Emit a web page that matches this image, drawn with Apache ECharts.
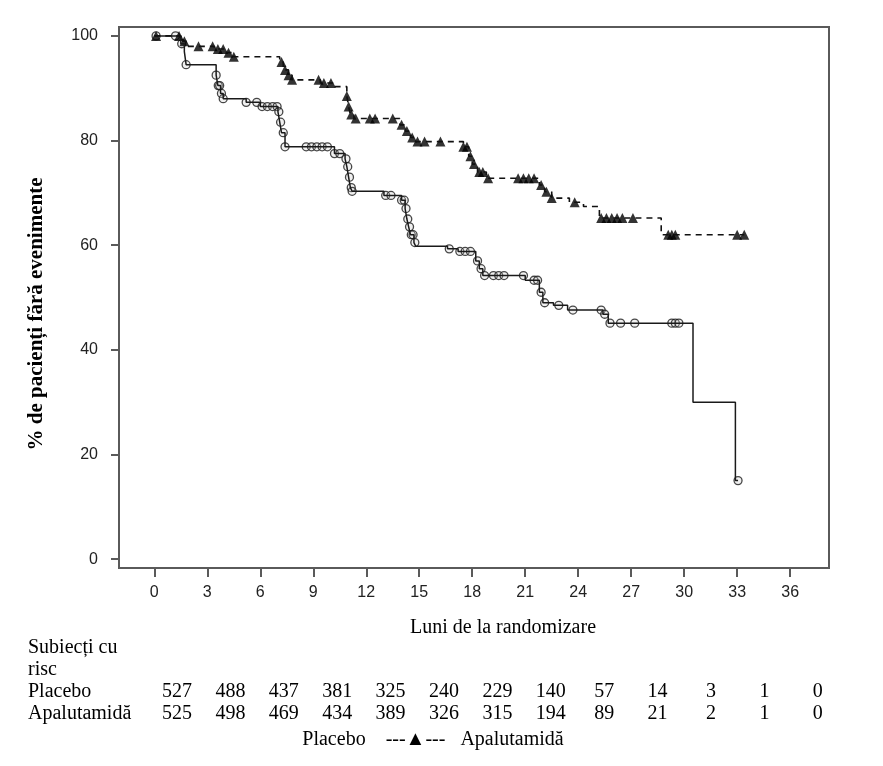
<!DOCTYPE html>
<html>
<head>
<meta charset="utf-8">
<script src="https://cdn.jsdelivr.net/npm/echarts@6/dist/echarts.min.js"></script>
<style>
  html, body { margin: 0; padding: 0; background: #fff; }
  #km-chart { width: 883px; height: 766px; }
</style>
</head>
<body>
<div id="km-chart"></div>
<script>
// luni pentru etichete / tabel de risc
var monthTicks = [0, 3, 6, 9, 12, 15, 18, 21, 24, 27, 30, 33, 36];
var pctTicks = [0, 20, 40, 60, 80, 100];

// Placebo: momentele evenimentelor si supravietuirea (%)
var placeboTime = [0, 1.5, 1.7, 1.8, 3.5, 3.6, 3.75, 3.9, 5.2, 6.0, 7.0, 7.1, 7.2, 7.4,
    10.2, 10.8, 10.9, 11.0, 11.1, 11.2, 13.0, 14.0, 14.2, 14.3, 14.4, 14.5, 14.7, 14.8,
    16.6, 17.2, 18.2, 18.4, 18.6, 21.0, 21.8, 22.0, 22.6, 23.4, 25.4, 25.7, 30.5, 32.9];
var placeboSurv = [100, 98.5, 97, 94.5, 92.5, 90.5, 89, 88, 87.3, 86.5, 85.5, 83.5, 81.5, 78.8,
    77.5, 76.5, 75, 73, 71, 70.3, 69.5, 68.6, 67, 65, 63.5, 62, 60.5, 59.8,
    59.3, 58.8, 57, 55.5, 54.2, 53.3, 51, 49, 48.5, 47.6, 46.8, 45.1, 30, 15];
var placeboCensor = [0.1, 1.2, 1.55, 1.8, 3.5, 3.62, 3.7, 3.8, 3.9, 5.2, 5.8, 6.1, 6.4, 6.7,
    6.95, 7.05, 7.15, 7.3, 7.4, 8.6, 8.9, 9.2, 9.5, 9.8, 10.2, 10.5, 10.85, 10.95, 11.05,
    11.15, 11.2, 13.1, 13.4, 14.0, 14.15, 14.25, 14.35, 14.45, 14.55, 14.65, 14.75, 16.7,
    17.3, 17.6, 17.9, 18.3, 18.5, 18.7, 19.2, 19.5, 19.8, 20.9, 21.5, 21.7, 21.9, 22.1,
    22.9, 23.7, 25.3, 25.5, 25.8, 26.4, 27.2, 29.3, 29.5, 29.7, 33.05];

// Apalutamida
var apaTime = [0, 1.5, 1.8, 3.4, 4.0, 4.5, 7.1, 7.3, 7.6, 7.8, 9.4, 10.2, 10.9, 11.0, 11.1, 11.3,
    13.9, 14.2, 14.5, 14.8, 17.5, 17.8, 18.0, 18.3, 18.8, 21.8, 22.1, 22.5, 23.5, 24.3, 25.2, 28.7];
var apaSurv = [100, 99, 98, 97.5, 96.8, 96, 95, 93.5, 92.5, 91.6, 91, 90.3, 88.5, 86.5, 85, 84.2,
    83, 81.8, 80.6, 79.8, 78.8, 77, 75.5, 74, 72.8, 71.5, 70.2, 69, 68.2, 67.4, 65.2, 62];
var apaCensor = [0.1, 1.4, 1.7, 2.5, 3.3, 3.6, 3.9, 4.2, 4.5, 7.2, 7.4, 7.6, 7.8, 9.3, 9.6, 10.0,
    10.9, 11.0, 11.15, 11.4, 12.2, 12.5, 13.5, 14.0, 14.3, 14.6, 14.9, 15.3, 16.2, 17.5, 17.7,
    17.9, 18.1, 18.4, 18.6, 18.9, 20.6, 20.9, 21.2, 21.5, 21.9, 22.2, 22.5, 23.8, 25.3, 25.6,
    25.9, 26.2, 26.5, 27.1, 29.1, 29.3, 29.5, 33.0, 33.4];

// subiecti cu risc
var riskPlacebo = [527, 488, 437, 381, 325, 240, 229, 140, 57, 14, 3, 1, 0];
var riskApa = [525, 498, 469, 434, 389, 326, 315, 194, 89, 21, 2, 1, 0];

var SERIF = '"Liberation Serif", "Times New Roman", serif';
var SANS = '"Liberation Sans", Arial, sans-serif';

function survAt(T, S, t) {
    var v = S[0];
    for (var i = 0; i < T.length; i++) {
        if (T[i] <= t + 1e-9) v = S[i];
    }
    return v;
}

function stepLine(T, S, C) {
    var out = T.map(function (t, i) { return [t, S[i]]; });
    var last = C[C.length - 1];
    if (last > T[T.length - 1]) out.push([last, S[S.length - 1]]);
    return out;
}

function censorPts(T, S, C) {
    return C.map(function (t) { return [t, survAt(T, S, t)]; });
}

var graphics = [];
graphics.push({
    type: 'text', x: 37, y: 314, rotation: Math.PI / 2,
    style: { text: '% de pacienți fără evenimente', font: 'bold 21px ' + SERIF,
        fill: '#000', textAlign: 'center', textVerticalAlign: 'middle' }
});
graphics.push({
    type: 'text', x: 503, y: 628,
    style: { text: 'Luni de la randomizare', font: '20px ' + SERIF,
        fill: '#000', textAlign: 'center', textVerticalAlign: 'middle' }
});
var leftTexts = [['Subiecți cu', 648], ['risc', 670], ['Placebo', 692], ['Apalutamidă', 714]];
leftTexts.forEach(function (r) {
    graphics.push({
        type: 'text', x: 28, y: r[1],
        style: { text: r[0], font: '20px ' + SERIF, fill: '#000',
            textAlign: 'left', textVerticalAlign: 'middle' }
    });
});
monthTicks.forEach(function (m, i) {
    var cx = 177 + i * 53.4;
    graphics.push({
        type: 'text', x: cx, y: 692,
        style: { text: String(riskPlacebo[i]), font: '20px ' + SERIF, fill: '#000',
            textAlign: 'center', textVerticalAlign: 'middle' }
    });
    graphics.push({
        type: 'text', x: cx, y: 714,
        style: { text: String(riskApa[i]), font: '20px ' + SERIF, fill: '#000',
            textAlign: 'center', textVerticalAlign: 'middle' }
    });
});
graphics.push({
    type: 'text', x: 433, y: 740,
    style: { text: 'Placebo    ---▲---   Apalutamidă', font: '20px ' + SERIF, fill: '#000',
        textAlign: 'center', textVerticalAlign: 'middle' }
});

var myChart = echarts.init(document.getElementById('km-chart'));

var option = {
    animation: false,
    backgroundColor: '#fff',
    grid: {
        left: 119, top: 27, right: 54, bottom: 198,
        show: true, borderColor: '#5a5a5a', borderWidth: 2
    },
    xAxis: {
        type: 'value',
        min: -2,
        max: 38.2,
        axisLine: { show: true, onZero: false, lineStyle: { color: '#5a5a5a', width: 2 } },
        axisTick: { show: true, length: 9, customValues: monthTicks,
            lineStyle: { color: '#5a5a5a', width: 2 } },
        axisLabel: { customValues: monthTicks, margin: 17,
            fontFamily: SANS, fontSize: 16, color: '#222' },
        splitLine: { show: false }
    },
    yAxis: {
        type: 'value',
        min: -1.7,
        max: 101.7,
        axisLine: { show: true, onZero: false, lineStyle: { color: '#5a5a5a', width: 2 } },
        axisTick: { show: true, length: 8, customValues: pctTicks,
            lineStyle: { color: '#5a5a5a', width: 2 } },
        axisLabel: { customValues: pctTicks, margin: 21,
            fontFamily: SANS, fontSize: 16, color: '#222' },
        splitLine: { show: false }
    },
    graphic: graphics,
    series: [
        {
            name: 'Placebo',
            type: 'line',
            step: 'end',
            symbol: 'none',
            lineStyle: { color: '#1a1a1a', width: 1.5 },
            data: stepLine(placeboTime, placeboSurv, placeboCensor)
        },
        {
            name: 'Apalutamidă',
            type: 'line',
            step: 'end',
            symbol: 'none',
            lineStyle: { color: '#111', width: 1.6, type: [6, 5] },
            data: stepLine(apaTime, apaSurv, apaCensor)
        },
        {
            name: 'Placebo cenzurat',
            type: 'scatter',
            symbol: 'circle',
            symbolSize: 8,
            itemStyle: { color: 'rgba(200,200,200,0.35)', borderColor: '#1a1a1a', borderWidth: 1.3 },
            data: censorPts(placeboTime, placeboSurv, placeboCensor)
        },
        {
            name: 'Apalutamidă cenzurat',
            type: 'scatter',
            symbol: 'triangle',
            symbolSize: 10,
            itemStyle: { color: '#000' },
            data: censorPts(apaTime, apaSurv, apaCensor)
        }
    ]
};

myChart.setOption(option);
</script>
</body>
</html>
